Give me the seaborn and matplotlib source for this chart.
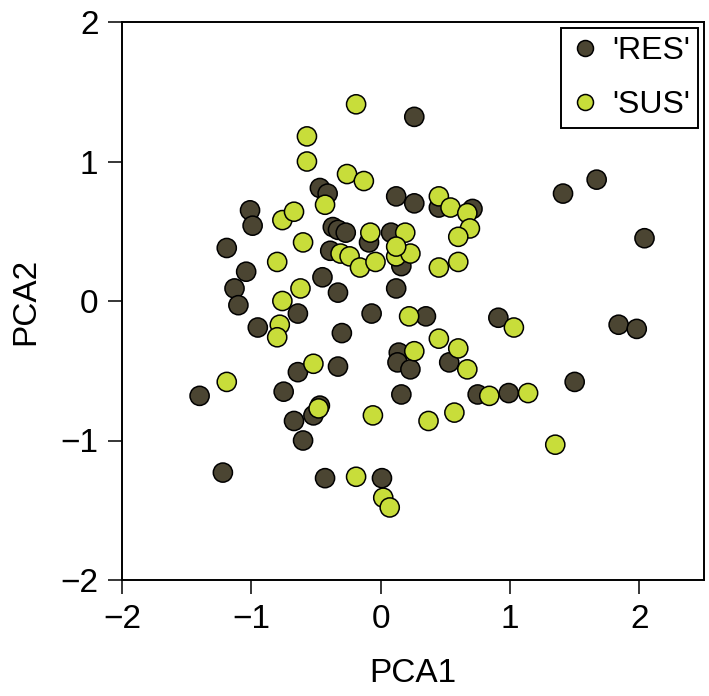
import matplotlib
matplotlib.use("Agg")
import matplotlib.pyplot as plt
import seaborn as sns
import pandas as pd

# ---- data ----
res_x = [0.26, -0.47, -0.41, 0.12, 0.26, 0.45, 0.71, -1.01, -0.99, -1.19,
         -0.37, -0.33, -0.27, -0.09, 0.08, -0.39, 0.16, -1.04, -1.13, -1.10,
         -0.64, -0.45, -0.33, 0.12, -0.07, 0.35, -0.95, -0.30, 0.91, 1.84,
         1.98, 1.41, 1.67, 2.04, 0.14, 0.13, 0.23, 0.53, -0.33, 0.16,
         0.75, 0.99, 1.50, -0.64, -1.40, -0.75, -0.47, -0.52, -0.67, -0.60,
         -1.22, -0.43, 0.01]
res_y = [1.32, 0.81, 0.77, 0.75, 0.70, 0.67, 0.66, 0.65, 0.54, 0.38,
         0.53, 0.51, 0.49, 0.42, 0.49, 0.36, 0.25, 0.21, 0.09, -0.03,
         -0.09, 0.17, 0.06, 0.09, -0.09, -0.11, -0.19, -0.23, -0.12, -0.17,
         -0.20, 0.77, 0.87, 0.45, -0.37, -0.44, -0.49, -0.44, -0.47, -0.67,
         -0.67, -0.66, -0.58, -0.51, -0.68, -0.65, -0.75, -0.82, -0.86, -1.00,
         -1.23, -1.27, -1.27]

sus_x = [-0.19, -0.57, -0.57, -0.26, -0.13, -0.43, -0.76, -0.67, -0.60, -0.08,
         0.19, -0.31, -0.24, -0.16, -0.04, 0.12, 0.23, 0.12, 0.45, 0.54,
         0.67, 0.69, 0.60, 0.45, 0.60, -0.80, -0.62, -0.76, 0.22, 1.03,
         -0.78, -0.80, 0.26, 0.45, 0.60, 0.67, 0.84, 1.14, -0.52, -1.19,
         -0.48, -0.06, 0.37, 0.57, 1.35, -0.19, 0.02, 0.07]
sus_y = [1.41, 1.18, 1.00, 0.91, 0.86, 0.69, 0.58, 0.64, 0.42, 0.49,
         0.49, 0.34, 0.32, 0.24, 0.28, 0.32, 0.34, 0.39, 0.75, 0.67,
         0.63, 0.52, 0.46, 0.24, 0.28, 0.28, 0.09, 0.00, -0.11, -0.19,
         -0.17, -0.26, -0.36, -0.27, -0.34, -0.49, -0.68, -0.66, -0.45, -0.58,
         -0.77, -0.82, -0.86, -0.80, -1.03, -1.26, -1.41, -1.48]

groups = ["'RES'", "'SUS'"]
colors = {"'RES'": "#4b4532", "'SUS'": "#c8dd3a"}
xticks = [-2, -1, 0, 1, 2]
yticks = [-2, -1, 0, 1, 2]

df = pd.DataFrame({
    "PCA1": res_x + sus_x,
    "PCA2": res_y + sus_y,
    "group": [groups[0]] * len(res_x) + [groups[1]] * len(sus_x),
})

sns.set_style("white")
plt.rcParams["font.family"] = ["Liberation Sans", "DejaVu Sans"]
plt.rcParams["text.color"] = "black"
plt.rcParams["axes.labelcolor"] = "black"
plt.rcParams["xtick.color"] = "black"
plt.rcParams["ytick.color"] = "black"

fig = plt.figure(figsize=(7.09, 6.96), dpi=100)
ax = fig.add_axes([122 / 709, 116 / 696, 582 / 709, 558 / 696])

sns.scatterplot(data=df, x="PCA1", y="PCA2", hue="group", hue_order=groups,
                palette=colors, s=190, edgecolor="black", linewidth=1.1,
                alpha=1, ax=ax, legend=True)

ax.set_xlim(-2, 2.5)
ax.set_ylim(-2, 2)
ax.set_xticks(xticks)
ax.set_yticks(yticks)
ax.set_xticklabels(["\u2212" + str(abs(v)) if v < 0 else str(v) for v in xticks])
ax.set_yticklabels(["\u2212" + str(abs(v)) if v < 0 else str(v) for v in yticks])
ax.tick_params(axis="both", which="major", labelsize=24, length=10, width=1.1,
               color="black", labelcolor="black", pad=7, direction="out",
               bottom=True, left=True)
ax.set_xlabel("PCA1", fontsize=24, labelpad=17, color="black")
ax.set_ylabel("PCA2", fontsize=24, labelpad=14, color="black")
for sp in ax.spines.values():
    sp.set_visible(True)
    sp.set_color("black")
    sp.set_linewidth(1.4)

old = ax.legend_
handles = old.legend_handles
labels = [t.get_text() for t in old.get_texts()]
for h in handles:
    try:
        h.set_markersize(11.5)
        h.set_markeredgewidth(1.1)
        h.set_markeredgecolor("black")
    except Exception:
        pass
leg = ax.legend(handles, labels, loc="upper right", fontsize=23, frameon=True,
                fancybox=False, edgecolor="black", framealpha=1,
                handlelength=1.0, handletextpad=0.35, borderpad=0.25,
                labelspacing=0.75, borderaxespad=0.2)
leg.get_frame().set_linewidth(1.4)
for t in leg.get_texts():
    t.set_color("black")

fig.savefig("out.png", dpi=100)
